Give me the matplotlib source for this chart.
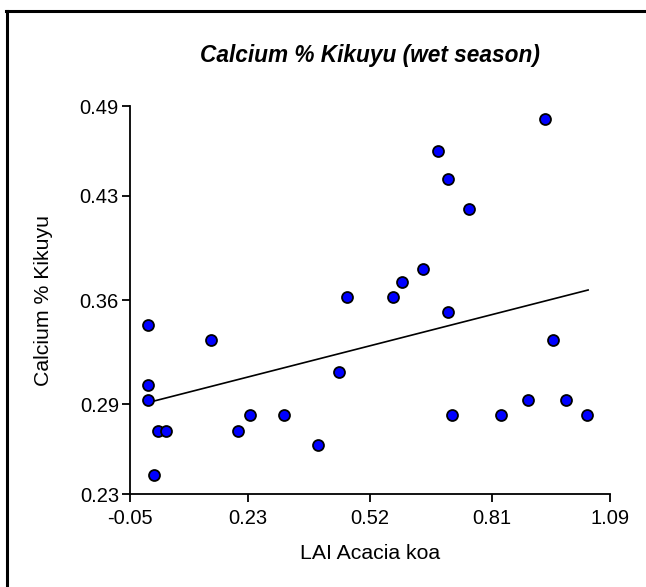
import numpy as np
import matplotlib
matplotlib.use("Agg")
import matplotlib.pyplot as plt
from matplotlib.lines import Line2D

plt.rcParams['font.family'] = ['Liberation Sans', 'DejaVu Sans']

# LAI Acacia koa vs calcium % in kikuyu
lai = [-0.007, -0.007, -0.007, 0.007, 0.016, 0.035, 0.143, 0.206, 0.234, 0.315,
       0.397, 0.446, 0.465, 0.574, 0.596, 0.646, 0.682, 0.705, 0.754, 0.705,
       0.714, 0.832, 0.895, 0.936, 0.954, 0.986, 1.036]
calcium = [0.343, 0.303, 0.293, 0.243, 0.272, 0.272, 0.333, 0.272, 0.283, 0.283,
           0.263, 0.312, 0.362, 0.362, 0.372, 0.381, 0.460, 0.441, 0.421, 0.352,
           0.283, 0.283, 0.293, 0.481, 0.333, 0.293, 0.283]

# fitted line
fit_x = [0.0015, 1.038]
fit_y = [0.2919, 0.3667]

xticks = [-0.05, 0.23, 0.52, 0.81, 1.09]
yticks = [0.23, 0.29, 0.36, 0.43, 0.49]

fig = plt.figure(figsize=(6.46, 5.87), dpi=100)
ax = fig.add_axes([130/646, 93/587, 480/646, 388/587])

ax.plot(fit_x, fit_y, color='black', lw=1.2, zorder=2)
ax.scatter(lai, calcium, s=62, c='#0000ff', edgecolors='black', linewidths=1.3, zorder=3)

ax.set_xlim(-0.05, 1.09)
ax.set_ylim(0.23, 0.49)
ax.set_xticks(xticks)
ax.set_xticklabels(['%.2f' % t for t in xticks])
ax.set_yticks(yticks)
ax.set_yticklabels(['%.2f' % t for t in yticks])
ax.spines['top'].set_visible(False)
ax.spines['right'].set_visible(False)
for s in ['left', 'bottom']:
    ax.spines[s].set_linewidth(1.3)
ax.tick_params(direction='out', length=6, width=1.3, labelsize=14.5)
ax.tick_params(axis='x', pad=5)
ax.tick_params(axis='y', pad=2)

ax.set_title('Calcium % Kikuyu (wet season)', fontsize=16.3, fontweight='bold',
             style='italic', pad=32)
ax.set_xlabel('LAI Acacia koa', fontsize=15.3, labelpad=11)
ax.set_ylabel('Calcium % Kikuyu', fontsize=15.3, labelpad=19)

# open frame round the figure (left and top edges only)
fig.add_artist(Line2D([7/646, 7/646], [0, 1 - 11/587], color='black', lw=2.2,
                      transform=fig.transFigure))
fig.add_artist(Line2D([6/646, 1], [1 - 11/587, 1 - 11/587], color='black', lw=2.2,
                      transform=fig.transFigure))

fig.savefig('out.png', dpi=100)
